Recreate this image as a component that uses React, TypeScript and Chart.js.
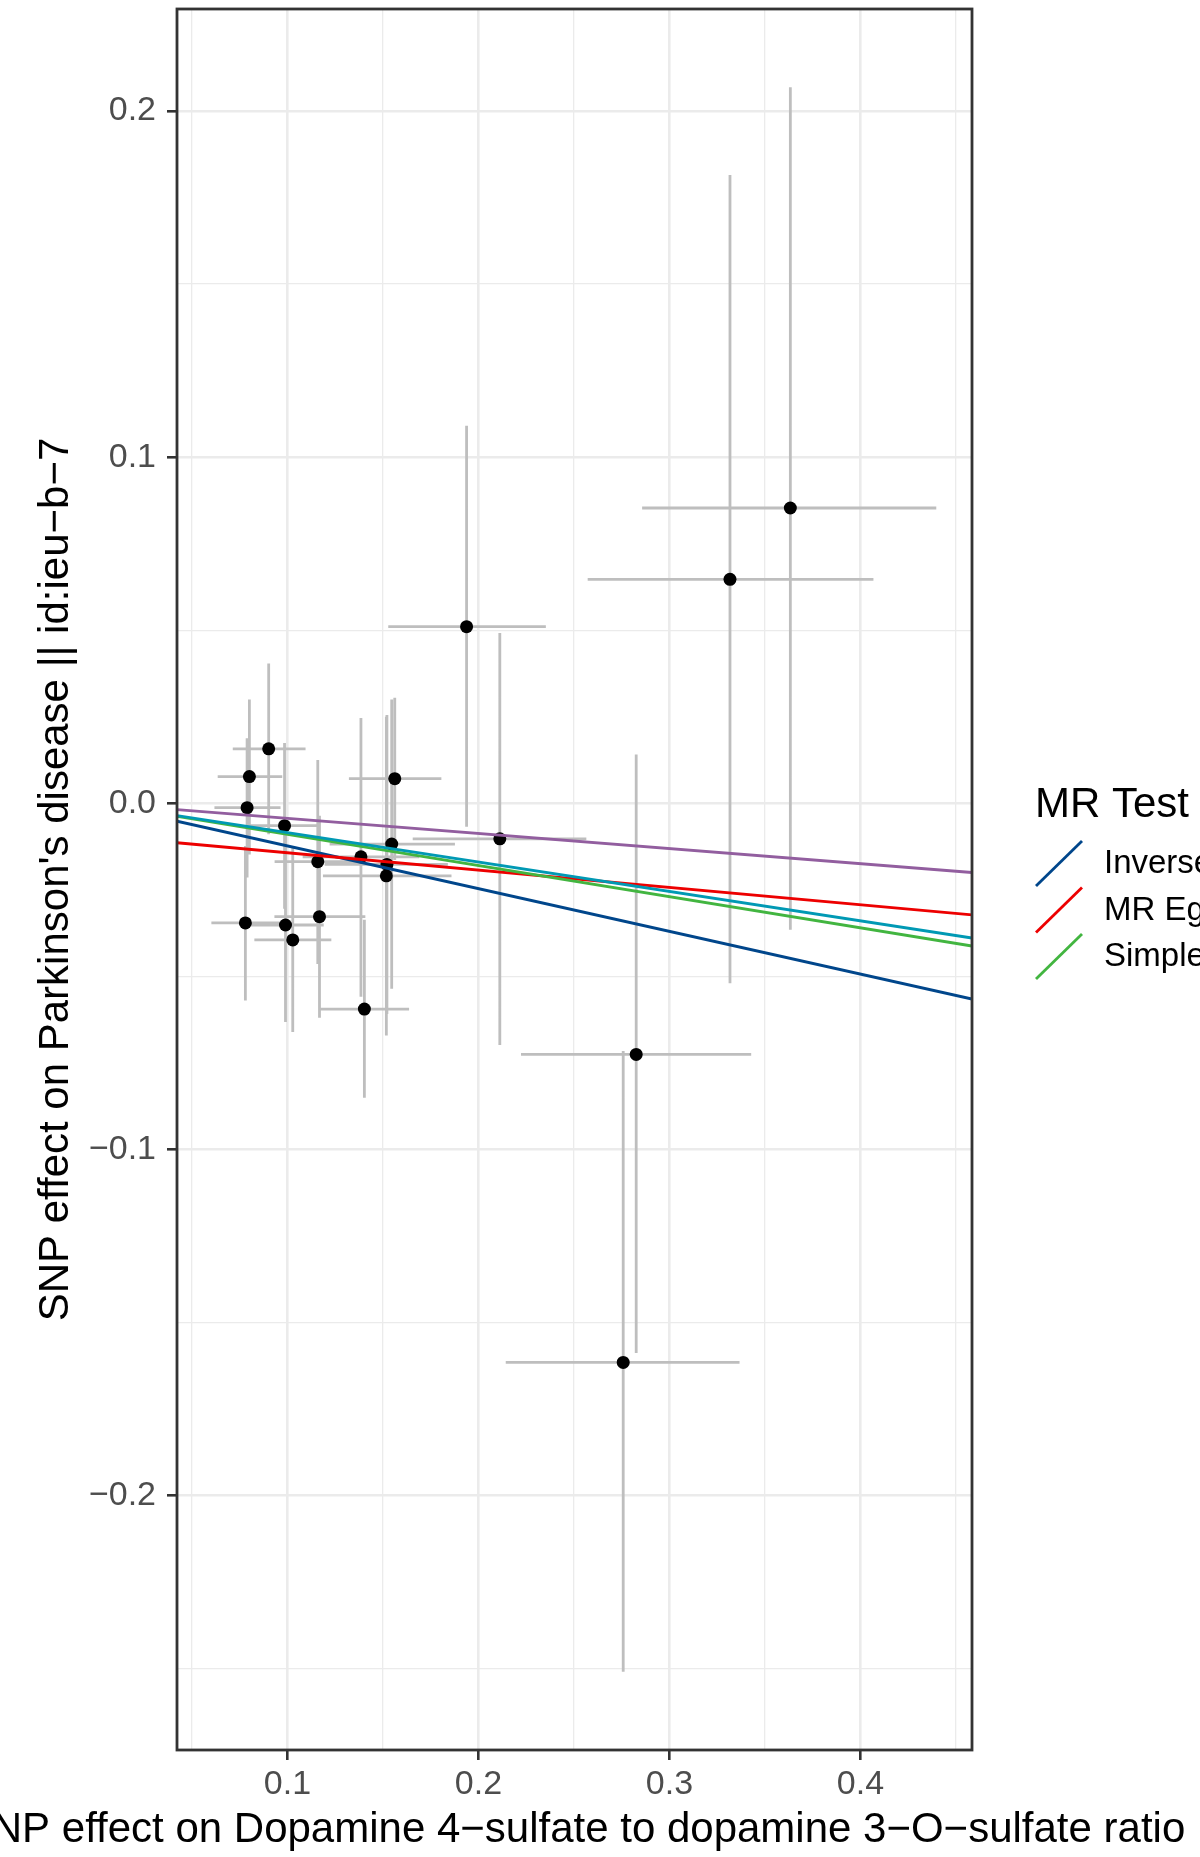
import React, { useEffect, useRef } from 'react';
import { Chart, registerables } from 'chart.js';

Chart.register(...registerables);

// ---- data ----
const snpX = [0.0902, 0.0801, 0.0789, 0.0985, 0.1562, 0.1546, 0.1385, 0.1159, 0.1521, 0.1518, 0.1168, 0.0780, 0.0990, 0.1028, 0.1403, 0.1938, 0.2112, 0.3317, 0.3633, 0.2826, 0.2758];
const snpY = [0.0157, 0.0077, -0.0013, -0.0065, 0.0071, -0.0118, -0.0155, -0.0169, -0.0177, -0.0210, -0.0328, -0.0346, -0.0352, -0.0395, -0.0595, 0.0510, -0.0103, 0.0647, 0.0853, -0.0726, -0.1616];
const snpXLo = [0.0714, 0.0635, 0.0618, 0.0795, 0.1322, 0.1221, 0.1080, 0.0933, 0.1195, 0.1186, 0.0932, 0.0602, 0.0790, 0.0827, 0.1172, 0.1528, 0.1656, 0.2572, 0.2857, 0.2223, 0.2143];
const snpXHi = [0.1095, 0.0973, 0.0964, 0.1175, 0.1806, 0.1877, 0.1690, 0.1385, 0.1840, 0.1859, 0.1408, 0.0965, 0.1190, 0.1230, 0.1637, 0.2353, 0.2565, 0.4068, 0.4397, 0.3428, 0.3367];
const snpYLo = [-0.0090, -0.0148, -0.0215, -0.0305, -0.0164, -0.0536, -0.0559, -0.0465, -0.0609, -0.0671, -0.0620, -0.0570, -0.0632, -0.0661, -0.0851, -0.0068, -0.0699, -0.0520, -0.0366, -0.1589, -0.2510];
const snpYHi = [0.0404, 0.0300, 0.0188, 0.0174, 0.0305, 0.0300, 0.0246, 0.0125, 0.0255, 0.0250, -0.0036, -0.0124, -0.0073, -0.0129, -0.0337, 0.1091, 0.0492, 0.1815, 0.2069, 0.0141, -0.0716];

const methods = ['Inverse variance weighted', 'MR Egger', 'Simple mode', 'Weighted median', 'Weighted mode'];
const slopes = [-0.1235, -0.0501, -0.0900, -0.0850, -0.0437];
const intercepts = [0, -0.0093, 0, 0, 0];
const methodColors = ['#00468B', '#ED0000', '#42B540', '#0099B4', '#925E9F'];
const legendMethods = ['Inverse variance weighted', 'MR Egger', 'Simple mode'];

const xTitle = 'SNP effect on Dopamine 4\u2212sulfate to dopamine 3\u2212O\u2212sulfate ratio';
const yTitle = "SNP effect on Parkinson's disease || id:ieu\u2212b\u22127";
const legendTitle = 'MR Test';

const X_MIN = 0.0422;
const X_MAX = 0.4584;
const Y_MIN = -0.2736;
const Y_MAX = 0.2295;
const TICK_STEP = 0.05;

// ---- styling ----
const FONT = '"Liberation Sans", Arial, Helvetica, sans-serif';
const GRID = '#EBEBEB';
const AXIS = '#333333';
const ERR = '#BEBEBE';

const isMajor = (v: number) => Math.abs(Math.round(v * 10) - v * 10) < 1e-6;
const fmt = (v: number) => {
  if (!isMajor(v)) return '';
  const r = Math.round(v * 10) / 10;
  return (r < 0 ? '\u2212' : '') + Math.abs(r).toFixed(1);
};

const zeroPad = (s: any) => {
  s.paddingTop = 0;
  s.paddingBottom = 0;
  s.paddingLeft = 0;
  s.paddingRight = 0;
};

const errorBarPlugin = {
  id: 'errorBars',
  beforeDatasetsDraw(chart: any) {
    const { ctx, chartArea, scales } = chart;
    const xs = scales.x;
    const ys = scales.y;
    ctx.save();
    ctx.beginPath();
    ctx.rect(chartArea.left, chartArea.top, chartArea.right - chartArea.left, chartArea.bottom - chartArea.top);
    ctx.clip();
    ctx.strokeStyle = ERR;
    ctx.lineWidth = 2.8;
    ctx.lineCap = 'butt';
    ctx.beginPath();
    for (let i = 0; i < snpX.length; i++) {
      const px = xs.getPixelForValue(snpX[i]);
      ctx.moveTo(px, ys.getPixelForValue(snpYLo[i]));
      ctx.lineTo(px, ys.getPixelForValue(snpYHi[i]));
    }
    for (let i = 0; i < snpX.length; i++) {
      const py = ys.getPixelForValue(snpY[i]);
      ctx.moveTo(xs.getPixelForValue(snpXLo[i]), py);
      ctx.lineTo(xs.getPixelForValue(snpXHi[i]), py);
    }
    ctx.stroke();
    ctx.restore();
  },
};

const decorPlugin = {
  id: 'decor',
  afterDraw(chart: any) {
    const { ctx, chartArea } = chart;
    const { left, right, top, bottom } = chartArea;
    ctx.save();
    // panel border
    ctx.strokeStyle = AXIS;
    ctx.lineWidth = 2.8;
    ctx.strokeRect(left, top, right - left, bottom - top);

    // axis titles
    ctx.fillStyle = '#000000';
    ctx.font = `42px ${FONT}`;
    ctx.textAlign = 'center';
    ctx.textBaseline = 'alphabetic';
    ctx.fillText(xTitle, (left + right) / 2, 1842);

    ctx.save();
    ctx.translate(68, (top + bottom) / 2);
    ctx.rotate(-Math.PI / 2);
    ctx.fillText(yTitle, 0, 0);
    ctx.restore();

    // legend
    ctx.textAlign = 'left';
    ctx.font = `42px ${FONT}`;
    ctx.fillText(legendTitle, 1035, 817);
    ctx.font = `33px ${FONT}`;
    ctx.textBaseline = 'middle';
    const keyTop = 841;
    const keyH = 46.5;
    legendMethods.forEach((m, i) => {
      const idx = methods.indexOf(m);
      const t = keyTop + i * keyH;
      ctx.strokeStyle = methodColors[idx];
      ctx.lineWidth = 2.8;
      ctx.beginPath();
      ctx.moveTo(1036, t + 45);
      ctx.lineTo(1082, t);
      ctx.stroke();
      ctx.fillStyle = '#000000';
      ctx.fillText(m, 1104, t + 23);
    });
    ctx.restore();
  },
};

export default function App() {
  const ref = useRef<HTMLCanvasElement | null>(null);

  useEffect(() => {
    if (!ref.current) return;
    Chart.defaults.font.family = FONT;

    const lineSets = methods.map((m, i) => ({
      type: 'line' as const,
      label: m,
      data: [
        { x: X_MIN, y: intercepts[i] + slopes[i] * X_MIN },
        { x: X_MAX, y: intercepts[i] + slopes[i] * X_MAX },
      ],
      borderColor: methodColors[i],
      backgroundColor: methodColors[i],
      borderWidth: 2.9,
      pointRadius: 0,
      fill: false,
      order: 5 - i,
    }));

    const pointSet = {
      type: 'scatter' as const,
      label: 'SNPs',
      data: snpX.map((x, i) => ({ x, y: snpY[i] })),
      backgroundColor: '#000000',
      borderColor: '#000000',
      borderWidth: 0,
      pointRadius: 6.5,
      order: 10,
    };

    const gridCommon = {
      color: GRID,
      lineWidth: (c: any) => (c.tick && isMajor(c.tick.value) ? 2.6 : 1.3),
      tickColor: (c: any) => (c.tick && isMajor(c.tick.value) ? AXIS : 'rgba(0,0,0,0)'),
      tickWidth: 2.6,
      tickLength: 10,
      drawTicks: true,
      drawOnChartArea: true,
    };

    const chart = new Chart(ref.current, {
      type: 'scatter',
      data: { datasets: [pointSet as any, ...(lineSets as any[])] },
      options: {
        responsive: false,
        animation: false,
        devicePixelRatio: 1,
        layout: { padding: { top: 9, right: 228, bottom: 0, left: 0 } },
        plugins: { legend: { display: false }, tooltip: { enabled: false } },
        scales: {
          x: {
            type: 'linear',
            min: X_MIN,
            max: X_MAX,
            afterFit: (s: any) => { s.height = 107; zeroPad(s); },
            ticks: {
              stepSize: TICK_STEP,
              includeBounds: false,
              autoSkip: false,
              maxRotation: 0,
              padding: 8,
              color: '#4D4D4D',
              font: { size: 34, lineHeight: 1 },
              callback: (v: any) => fmt(Number(v)),
            },
            grid: gridCommon,
            border: { display: false },
          },
          y: {
            type: 'linear',
            min: Y_MIN,
            max: Y_MAX,
            afterFit: (s: any) => { s.width = 177; zeroPad(s); },
            ticks: {
              stepSize: TICK_STEP,
              includeBounds: false,
              autoSkip: false,
              padding: 11,
              color: '#4D4D4D',
              font: { size: 34, lineHeight: 1 },
              callback: (v: any) => fmt(Number(v)),
            },
            grid: gridCommon,
            border: { display: false },
          },
        },
      },
      plugins: [errorBarPlugin, decorPlugin],
    } as any);

    return () => chart.destroy();
  }, []);

  return (
    <div style={{ position: 'absolute', left: 0, top: 0, width: 1200, height: 1857, background: '#ffffff' }}>
      <canvas ref={ref} width={1200} height={1857} style={{ width: 1200, height: 1857, display: 'block' }} />
    </div>
  );
}
